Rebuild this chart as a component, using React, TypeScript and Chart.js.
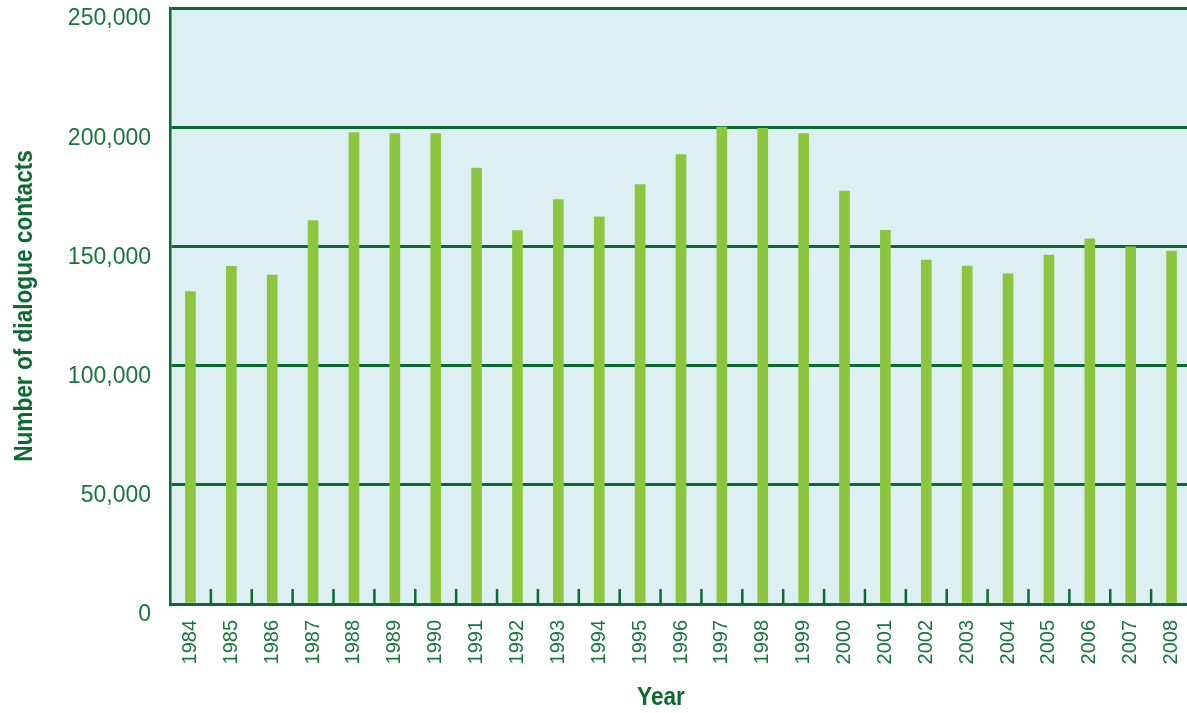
import React, { useEffect, useRef } from "react";
import { Chart, registerables } from "chart.js";

Chart.register(...registerables);

const years = [
  "1984", "1985", "1986", "1987", "1988", "1989", "1990", "1991", "1992",
  "1993", "1994", "1995", "1996", "1997", "1998", "1999", "2000", "2001",
  "2002", "2003", "2004", "2005", "2006", "2007", "2008",
];
const contacts = [
  131000, 141600, 138000, 160800, 197700, 197300, 197300, 182900, 156600,
  169600, 162400, 175900, 188500, 200100, 199500, 197300, 173200, 156700,
  144300, 141700, 138500, 146400, 153200, 149800, 148000,
];
const yMin = 0;
const yMax = 250000;
const yStep = 50000;
const yTitle = "Number of dialogue contacts";
const xTitle = "Year";

const DARK = "#0b6a2f";
const TICK_TEXT = "#17763a";
const BAR = "#8cc63f";
const PLOT_BG = "#deeff3";
const TITLE_FONT = "bold 26px 'Liberation Sans', Arial, sans-serif";
const TITLE_SQUEEZE = 0.87;

const decor = {
  id: "decor",
  beforeDraw(chart: any) {
    const { ctx, chartArea: a } = chart;
    ctx.save();
    ctx.fillStyle = PLOT_BG;
    ctx.fillRect(a.left, a.top, a.right - a.left, a.bottom - a.top);
    ctx.restore();
  },
  afterDatasetsDraw(chart: any) {
    const { ctx, chartArea: a } = chart;
    const xs = chart.scales.x;
    ctx.save();
    ctx.strokeStyle = DARK;
    ctx.lineWidth = 2.5;
    for (let i = 1; i < years.length; i++) {
      const px = (xs.getPixelForValue(i - 1) + xs.getPixelForValue(i)) / 2;
      ctx.beginPath();
      ctx.moveTo(px, a.bottom - 15);
      ctx.lineTo(px, a.bottom);
      ctx.stroke();
    }
    ctx.restore();
  },
  afterDraw(chart: any) {
    const { ctx, chartArea: a } = chart;
    ctx.save();
    ctx.fillStyle = DARK;
    ctx.font = TITLE_FONT;
    ctx.textAlign = "center";
    ctx.textBaseline = "alphabetic";
    // y axis title
    ctx.save();
    ctx.translate(31.5, (a.top + a.bottom) / 2);
    ctx.rotate(-Math.PI / 2);
    ctx.scale(TITLE_SQUEEZE, 1);
    ctx.fillText(yTitle, 0, 0);
    ctx.restore();
    // x axis title
    ctx.save();
    ctx.translate(661, 705);
    ctx.scale(TITLE_SQUEEZE, 1);
    ctx.fillText(xTitle, 0, 0);
    ctx.restore();
    ctx.restore();
  },
};

export default function App() {
  const ref = useRef<HTMLCanvasElement | null>(null);

  useEffect(() => {
    if (!ref.current) return;
    const chart = new Chart(ref.current, {
      type: "bar",
      data: {
        labels: years,
        datasets: [
          {
            data: contacts,
            backgroundColor: BAR,
            borderWidth: 0,
            barThickness: 10,
          },
        ],
      },
      options: {
        responsive: false,
        animation: false,
        layout: { padding: { top: 8, right: 8, bottom: 0, left: 0 } },
        plugins: {
          legend: { display: false },
          tooltip: { enabled: false },
        },
        scales: {
          x: {
            offset: true,
            grid: { display: false },
            border: { display: true, color: DARK, width: 3 },
            ticks: {
              autoSkip: false,
              maxRotation: 90,
              minRotation: 90,
              padding: 8,
              color: TICK_TEXT,
              font: { family: "'Liberation Sans', Arial, sans-serif", size: 20 },
            },
            afterFit(scale: any) {
              scale.height = 109;
              scale.paddingLeft = 0;
              scale.paddingRight = 0;
            },
          },
          y: {
            min: yMin,
            max: yMax,
            grid: {
              color: DARK,
              lineWidth: 3,
              drawTicks: false,
            },
            border: { display: true, color: DARK, width: 2.5 },
            ticks: {
              stepSize: yStep,
              padding: 19,
              labelOffset: 11,
              color: TICK_TEXT,
              font: { family: "'Liberation Sans', Arial, sans-serif", size: 23 },
              callback: (v: any) => Number(v).toLocaleString("en-US"),
            },
            afterFit(scale: any) {
              scale.width = 170;
              scale.paddingTop = 0;
              scale.paddingBottom = 0;
            },
          },
        },
      },
      plugins: [decor],
    });
    return () => chart.destroy();
  }, []);

  return (
    <div
      style={{
        position: "fixed",
        left: 0,
        top: 0,
        width: 1187,
        height: 713,
        overflow: "hidden",
        background: "#ffffff",
      }}
    >
      <canvas ref={ref} width={1200} height={713} style={{ display: "block" }} />
    </div>
  );
}
